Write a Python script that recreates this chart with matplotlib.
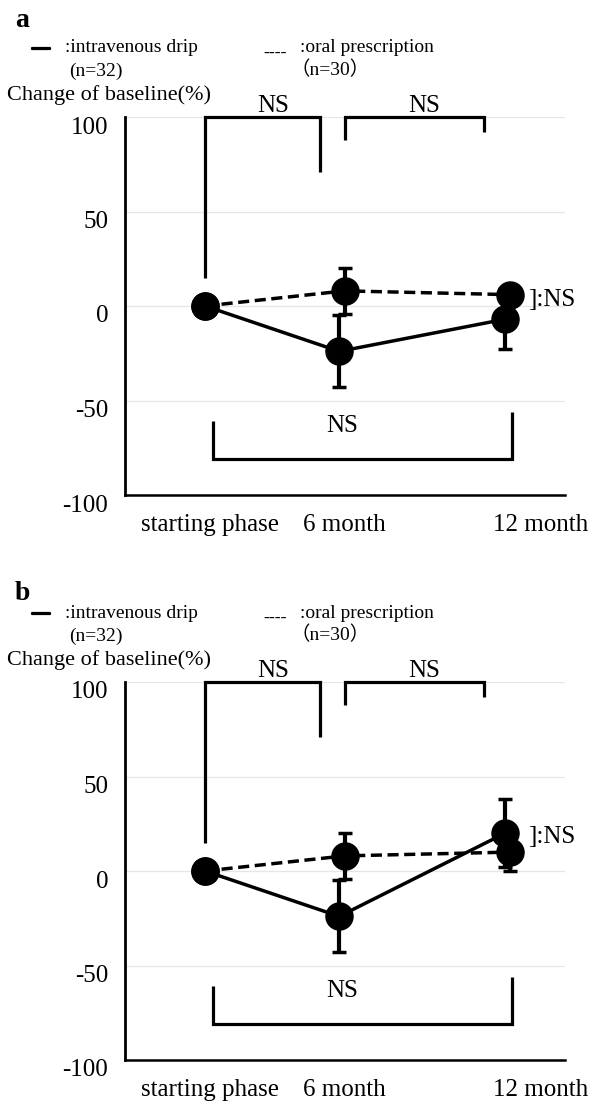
import matplotlib
matplotlib.use('Agg')
import matplotlib.pyplot as plt
import matplotlib.patheffects as pe
from matplotlib.transforms import ScaledTranslation

# chart values
categories = ['starting phase', '6 month', '12 month']
y_ticks = [-100, -50, 0, 50, 100]
y_tick_labels = ['-100', '-50', '0', '50', '100']

# panel a
a_iv_mean = [0, -24, -7]
a_iv_err = [0, 19, 16]
a_oral_mean = [0, 8, 6]
a_oral_err = [0, 12, 5]

# panel b
b_iv_mean = [0, -24, 20]
b_iv_err = [0, 19, 18]
b_oral_mean = [0, 8, 10]
b_oral_err = [0, 12, 10]

iv_label = ':intravenous drip'
iv_n = '(n=32)'
oral_label = ':oral prescription'
oral_n = '（n=30）'
y_title = 'Change of baseline(%)'
ns_text = 'NS'

# layout
W, H, DPI = 591, 1106, 100
point_pos = [0, 1, 2.21]
label_pos = [0.04, 1.02, 2.45]
iv_shift, oral_shift = -0.02, 0.02
SERIF = ['Liberation Serif', 'DejaVu Serif']
plt.rcParams['font.family'] = SERIF


def fx(px):
    return px / W


def fy(py):
    return 1 - py / H


def bracket(ax, xs, ys):
    ax.plot(xs, ys, color='black', lw=2.3, clip_on=False,
            solid_joinstyle='miter', solid_capstyle='butt', zorder=5)


def header(fig, letter, dy, letter_base):
    fig.text(fx(15), fy(letter_base), letter, fontsize=20, fontweight='bold',
             va='baseline')
    fig.text(fx(32), fy(52.5 + dy), '—', fontsize=13, fontweight='bold', va='baseline',
             path_effects=[pe.withStroke(linewidth=1.6, foreground='black')])
    fig.text(fx(65), fy(52.5 + dy), iv_label, fontsize=14, va='baseline')
    fig.text(fx(69), fy(75.5 + dy), iv_n, fontsize=14, va='baseline')
    fig.text(fx(263), fy(57.5 + dy), '----', fontsize=13, va='baseline')
    fig.text(fx(300), fy(52.5 + dy), oral_label, fontsize=14, va='baseline')
    fig.text(fx(291), fy(75.5 + dy), oral_n, fontsize=14, va='baseline',
             family=['Liberation Serif', 'Noto Sans CJK JP'])
    fig.text(fx(7), fy(100 + dy), y_title, fontsize=16, va='baseline')


def panel(fig, dy, iv_mean, iv_err, oral_mean, oral_err, ns_y):
    top, bottom = 117 + dy, 495 + dy
    ax = fig.add_axes([fx(125), fy(bottom), fx(565) - fx(125), (bottom - top) / H])
    ax.set_xlim(-0.584, 2.628)
    ax.set_ylim(-100, 100)

    for s in ['top', 'right']:
        ax.spines[s].set_visible(False)
    ax.spines['left'].set_linewidth(2.0)
    ax.spines['bottom'].set_linewidth(1.8)

    ax.set_yticks(y_ticks)
    ax.set_yticklabels(y_tick_labels, fontsize=18)
    ax.set_xticks(label_pos)
    ax.set_xticklabels(categories, fontsize=18)
    ax.tick_params(axis='y', length=0, pad=12)
    ax.tick_params(axis='x', length=0, pad=14)
    shift = ScaledTranslation(0, -8 / DPI, fig.dpi_scale_trans)
    for lab in ax.get_yticklabels():
        lab.set_transform(lab.get_transform() + shift)

    ax.yaxis.grid(True, color='#e6e6e6', lw=0.9, zorder=0)
    ax.set_axisbelow(True)

    x_iv = [p + (iv_shift if i else 0) for i, p in enumerate(point_pos)]
    x_oral = [p + (oral_shift if i else 0) for i, p in enumerate(point_pos)]

    for xs, m, e, ls in [(x_iv, iv_mean, iv_err, '-'),
                         (x_oral, oral_mean, oral_err, (0, (3.2, 1.6)))]:
        ax.errorbar(xs, m, yerr=e, fmt='none', ecolor='black', elinewidth=3,
                    capsize=4.8, capthick=2.5, zorder=2)
        ax.plot(xs, m, color='black', lw=2.5, ls=ls, zorder=3)
        ax.plot(xs, m, 'o', color='black', ms=19.5, zorder=4)

    bracket(ax, [0, 0, 0.84, 0.84], [15, 100, 100, 71])
    bracket(ax, [1.02, 1.02, 2.04, 2.04], [88, 100, 100, 92])
    bracket(ax, [0.06, 0.06, 2.24, 2.24], [-61, -81, -81, -56])
    ax.text(0.5, 102.6, ns_text, fontsize=18, ha='center', va='baseline', clip_on=False)
    ax.text(1.6, 102.6, ns_text, fontsize=18, ha='center', va='baseline', clip_on=False)
    ax.text(1.0, -66.7, ns_text, fontsize=18, ha='center', va='baseline')
    ax.text(2.36, ns_y, ']:' + ns_text, fontsize=18, ha='left', va='baseline', clip_on=False)
    return ax


def main():
    fig = plt.figure(figsize=(W / DPI, H / DPI), dpi=DPI)

    header(fig, 'a', 0, 27)
    panel(fig, 0, a_iv_mean, a_iv_err, a_oral_mean, a_oral_err, 0)

    header(fig, 'b', 565, 600)
    panel(fig, 565, b_iv_mean, b_iv_err, b_oral_mean, b_oral_err, 14.8)

    fig.savefig('out.png', dpi=DPI)


if __name__ == '__main__':
    main()
